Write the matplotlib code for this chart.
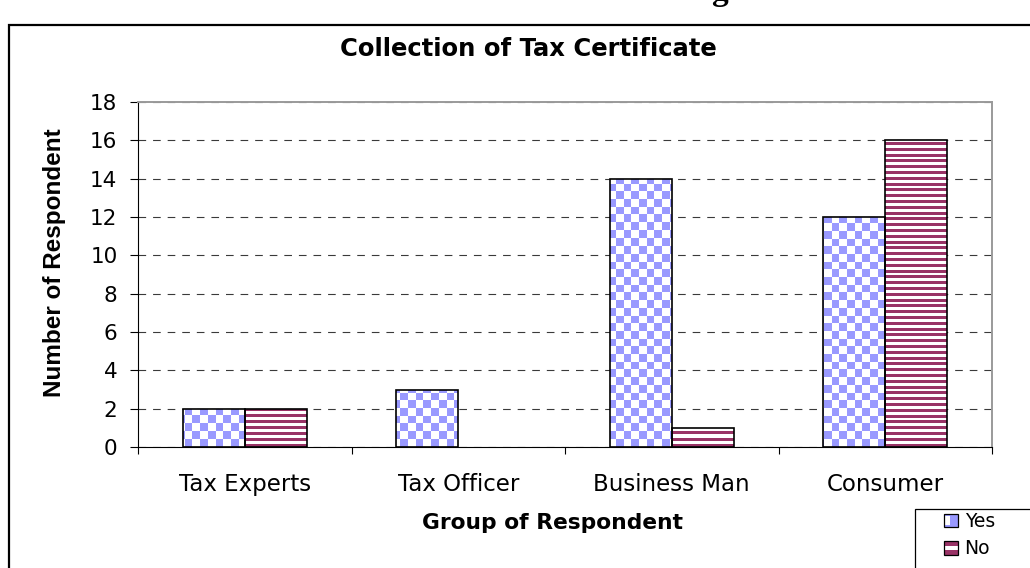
import numpy as np
import matplotlib
matplotlib.use("Agg")
import matplotlib.pyplot as plt
from matplotlib.patches import Rectangle
from matplotlib.legend_handler import HandlerBase

# ---- data ----
categories = ["Tax Experts", "Tax Officer", "Business Man", "Consumer"]
yes_counts = [2, 3, 14, 12]
no_counts = [2, 0, 1, 16]
y_ticks = [0, 2, 4, 6, 8, 10, 12, 14, 16, 18]
series_labels = ["Yes", "No"]

BLUE = "#9999FF"
MAROON = "#993366"

plt.rcParams["font.family"] = ["DejaVu Sans"]
plt.rcParams["lines.scale_dashes"] = False

W_PX, H_PX = 1030, 568
fig = plt.figure(figsize=(W_PX / 100, H_PX / 100), dpi=100)

def fx(px):
    return px / W_PX

def fy(py):
    return 1 - py / H_PX

# chart area border (runs off the right and bottom edges)
fig.patches.append(Rectangle((fx(9), fy(1000)), 2.0, fy(25) - fy(1000),
                             transform=fig.transFigure, fill=False,
                             edgecolor="black", lw=1.6, zorder=0))

# clipped heading line from the surrounding page
fig.text(fx(728), 1.0, "g", ha="right", va="baseline", fontsize=24,
         fontfamily="Liberation Serif", fontweight="bold")

left, right, top, bottom = 138, 992, 102, 447
ax = fig.add_axes([fx(left), fy(bottom), fx(right - left), fy(top) - fy(bottom)])

x = np.arange(len(categories))
bw = 0.29
bars_yes = ax.bar(x - bw / 2, yes_counts, bw, facecolor="none",
                  edgecolor="black", lw=1.2, zorder=3)
bars_no = ax.bar(x + bw / 2, no_counts, bw, facecolor="none",
                 edgecolor="black", lw=1.2, zorder=3)

# fill patterns (pixel-scale checkerboard and horizontal stripes)
pw, ph = right - left, bottom - top
rows = np.arange(ph)[:, None]
cols = np.arange(pw)[None, :]
cell = 7.7
checker = ((rows // cell + cols // cell) % 2 == 0)
blue_rgb = np.array([153, 153, 255]) / 255.0
maroon_rgb = np.array([153, 51, 102]) / 255.0
white = np.ones(3)
checker_img = np.where(checker[..., None], blue_rgb, white)
stripe = ((rows % 5.8) < 3.0) & np.ones_like(cols, dtype=bool)
stripe_img = np.where(stripe[..., None], maroon_rgb, white)

xmin, xmax, ymin, ymax = -0.5, 3.5, 0, 18
for bars, img in ((bars_yes, checker_img), (bars_no, stripe_img)):
    for b in bars:
        if b.get_height() <= 0:
            # an empty bar leaves no outline on the baseline
            b.set_edgecolor("none")
            continue
        im = ax.imshow(img, extent=(xmin, xmax, ymin, ymax), origin="lower",
                       interpolation="nearest", aspect="auto", zorder=2)
        im.set_clip_path(b)

ax.set_xlim(xmin, xmax)
ax.set_ylim(ymin, ymax)

# axes styling
ax.set_yticks(y_ticks)
ax.tick_params(axis="y", length=5.8, width=0.8, pad=9, labelsize=15.5,
               colors="black")
ax.set_xticks([-0.5, 0.5, 1.5, 2.5, 3.5])
ax.set_xticklabels([])
ax.set_xticks(x, minor=True)
ax.set_xticklabels(categories, minor=True)
ax.tick_params(axis="x", which="major", length=5, width=0.8, direction="out")
ax.tick_params(axis="x", which="minor", length=0, pad=18.5, labelsize=16.5)

ax.yaxis.grid(True, linestyle=(0, (5.5, 5.0)), color="#3a3a3a", lw=0.8)
ax.set_axisbelow(True)

for side in ("left", "bottom"):
    ax.spines[side].set_color("black")
    ax.spines[side].set_linewidth(0.8)
for side in ("top", "right"):
    ax.spines[side].set_color("#9a9a9a")
    ax.spines[side].set_linewidth(1.4)

# titles
fig.text(fx(528), fy(56), "Collection of Tax Certificate", ha="center",
         va="baseline", fontsize=17.5, fontweight="bold")
fig.text(fx(552), fy(529), "Group of Respondent", ha="center",
         va="baseline", fontsize=15.7, fontweight="bold")
fig.text(fx(54), fy(263), "Number of Respondent", rotation=90, ha="center",
         va="center", fontsize=17.5, fontweight="bold",
         fontfamily="Liberation Sans")

# legend
fig.patches.append(Rectangle((fx(915), fy(900)), 1.0, fy(509) - fy(900),
                             transform=fig.transFigure, facecolor="white",
                             edgecolor="black", lw=0.9, zorder=1))


class PatternKey(HandlerBase):
    def __init__(self, kind):
        super().__init__()
        self.kind = kind

    def create_artists(self, legend, orig_handle, xdescent, ydescent,
                       width, height, fontsize, trans):
        s = min(width, height)
        x0 = -xdescent + (width - s) / 2
        y0 = -ydescent + (height - s) / 2
        if self.kind == "yes":
            base = Rectangle((x0, y0), s, s, facecolor=BLUE, edgecolor="none")
            inner = Rectangle((x0, y0 + s * 0.2), s * 0.45, s * 0.6,
                              facecolor="white", edgecolor="none")
        else:
            base = Rectangle((x0, y0), s, s, facecolor=MAROON, edgecolor="none")
            inner = Rectangle((x0, y0 + s * 0.38), s, s * 0.28,
                              facecolor="white", edgecolor="none")
        frame = Rectangle((x0, y0), s, s, facecolor="none", edgecolor="black",
                          lw=0.9)
        arts = [base, inner, frame]
        for a in arts:
            a.set_transform(trans)
        return arts


h_yes = Rectangle((0, 0), 1, 1)
h_no = Rectangle((0, 0), 1, 1)
leg = fig.legend([h_yes, h_no], series_labels, loc="upper left",
                 bbox_to_anchor=(fx(944), fy(512)), frameon=False,
                 fontsize=13.5, handlelength=0.75, handleheight=0.75,
                 handletextpad=0.35, labelspacing=0.45, borderpad=0,
                 borderaxespad=0,
                 handler_map={h_yes: PatternKey("yes"), h_no: PatternKey("no")})
leg.set_zorder(5)

fig.savefig("out.png", dpi=100)
